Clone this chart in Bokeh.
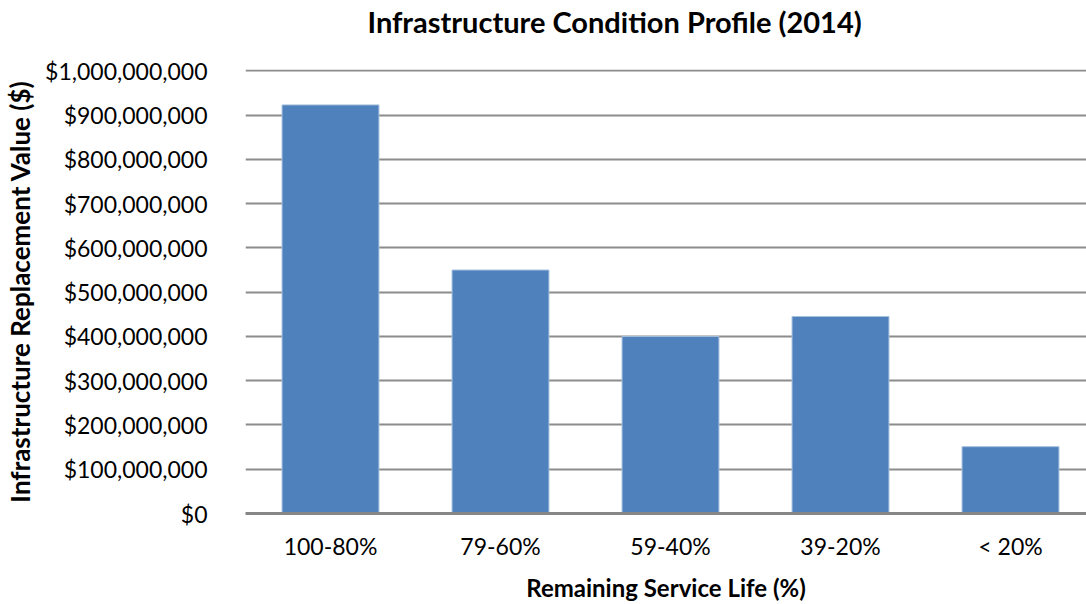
from bokeh.plotting import figure
from bokeh.models import ColumnDataSource, FixedTicker, NumeralTickFormatter, Range1d, Title
from bokeh.embed import file_html
from bokeh.resources import INLINE

title_text = "Infrastructure Condition Profile (2014)"
categories = ["100-80%", "79-60%", "59-40%", "39-20%", "< 20%"]
values = [923000000, 550000000, 400000000, 445000000, 151000000]
y_ticks = [0, 100000000, 200000000, 300000000, 400000000, 500000000,
           600000000, 700000000, 800000000, 900000000, 1000000000]

FONT = "Lato"
positions = list(range(len(categories)))
source = ColumnDataSource(data=dict(x=positions, top=values, cat=categories))

p = figure(width=1086, height=604, output_backend="svg", toolbar_location=None,
           x_range=Range1d(-0.5, 4.447), y_range=Range1d(0, 1003000000),
           min_border_left=245, min_border_right=0, min_border_top=69,
           min_border_bottom=87)

p.vbar(x="x", top="top", width=0.57, source=source,
       fill_color="#4F81BD", line_color="#A7C0DE", line_width=1)

p.title.text = title_text
p.title.text_font = FONT
p.title.text_font_size = "29px"
p.title.text_font_style = "bold"
p.title.text_color = "#000000"
p.title.align = "left"
p.title.offset = 122
p.title.standoff = 0

spacer = Title(text=" ", text_font_size="10px", standoff=18)
p.add_layout(spacer, "above")

p.outline_line_color = None
p.xgrid.grid_line_color = None
p.ygrid.grid_line_color = "#8C8C8C"
p.ygrid.grid_line_width = 2

p.yaxis.ticker = FixedTicker(ticks=y_ticks)
p.yaxis.formatter = NumeralTickFormatter(format="$0,0")
p.yaxis.axis_line_color = None
p.yaxis.major_tick_line_color = None
p.yaxis.minor_tick_line_color = None
p.yaxis.major_label_text_font = FONT
p.yaxis.major_label_text_font_size = "23px"
p.yaxis.major_label_text_color = "#000000"
p.yaxis.major_label_standoff = 32
p.yaxis.axis_label = "Infrastructure Replacement Value ($)"
p.yaxis.axis_label_text_font = FONT
p.yaxis.axis_label_text_font_size = "26px"
p.yaxis.axis_label_text_font_style = "bold"
p.yaxis.axis_label_text_color = "#000000"
p.yaxis.axis_label_standoff = 6

p.xaxis.ticker = FixedTicker(ticks=positions)
p.xaxis.major_label_overrides = {i: c for i, c in zip(positions, categories)}
p.xaxis.axis_line_color = "#868686"
p.xaxis.axis_line_width = 3
p.xaxis.major_tick_line_color = None
p.xaxis.minor_tick_line_color = None
p.xaxis.major_label_text_font = FONT
p.xaxis.major_label_text_font_size = "23px"
p.xaxis.major_label_text_color = "#000000"
p.xaxis.major_label_standoff = 12
p.xaxis.axis_label = "Remaining Service Life (%)"
p.xaxis.axis_label_text_font = FONT
p.xaxis.axis_label_text_font_size = "24px"
p.xaxis.axis_label_text_font_style = "bold"
p.xaxis.axis_label_text_color = "#000000"
p.xaxis.axis_label_standoff = 10

open("out.html", "w").write(file_html(p, INLINE))
